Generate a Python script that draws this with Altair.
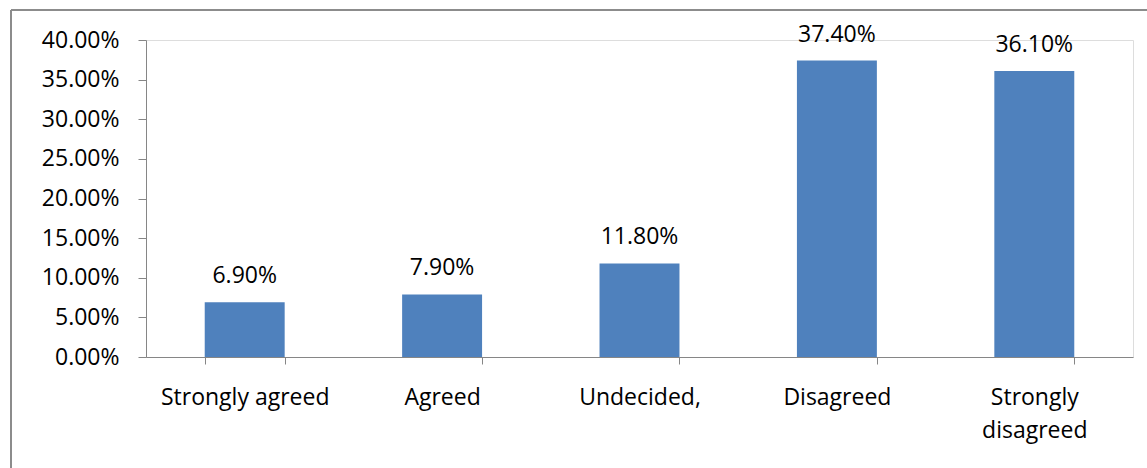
import altair as alt
import pandas as pd

categories = ["Strongly agreed", "Agreed", "Undecided,", "Disagreed", "Strongly disagreed"]
values = [0.069, 0.079, 0.118, 0.374, 0.361]
labels = ["6.90%", "7.90%", "11.80%", "37.40%", "36.10%"]

df = pd.DataFrame({"cat": categories, "val": values, "lab": labels})

FONT = "Open Sans"
FS = 23
GRAY = "#868686"
W, H = 987, 317

x = alt.X("cat:N", sort=categories, title=None,
          scale=alt.Scale(paddingInner=0.595, paddingOuter=0.2975),
          axis=alt.Axis(labelAngle=0, tickBand="extent", tickSize=7, tickColor=GRAY,
                        domainColor=GRAY, labelFont=FONT, labelFontSize=FS,
                        labelColor="black", labelPadding=22, labelLimit=400,
                        labelLineHeight=33,
                        labelExpr="datum.label == 'Strongly disagreed' ? ['Strongly', 'disagreed'] : datum.label"))
y = alt.Y("val:Q", title=None,
          scale=alt.Scale(domain=[0, 0.4], nice=False),
          axis=alt.Axis(format=".2%", values=[0, .05, .1, .15, .2, .25, .3, .35, .4],
                        grid=False, tickSize=8, tickColor=GRAY, domainColor=GRAY,
                        labelFont=FONT, labelFontSize=FS, labelColor="black",
                        labelPadding=19))

bars = alt.Chart(df).mark_bar(color="#4F81BD").encode(x=x, y=y)
text = alt.Chart(df).mark_text(font=FONT, fontSize=FS, dy=-19, baseline="alphabetic",
                               color="black").encode(x=x, y=y, text="lab:N")

frame_left = alt.Chart(df).mark_rule(color="#8c8c8c", strokeWidth=2).encode(
    x=alt.value(-135), y=alt.value(-30), y2=alt.value(H + 200))
frame_top = alt.Chart(df).mark_rule(color="#8c8c8c", strokeWidth=2).encode(
    x=alt.value(-135), x2=alt.value(W + 200), y=alt.value(-30))

chart = alt.layer(bars, text, frame_left, frame_top).properties(
    width=W, height=H,
    autosize=alt.AutoSizeParams(type="none"),
    padding={"left": 146, "top": 40, "right": 14, "bottom": 111},
).configure_view(stroke=None).configure(background="white")

chart.save("out.html", embed_options={"renderer": "svg", "actions": False})
